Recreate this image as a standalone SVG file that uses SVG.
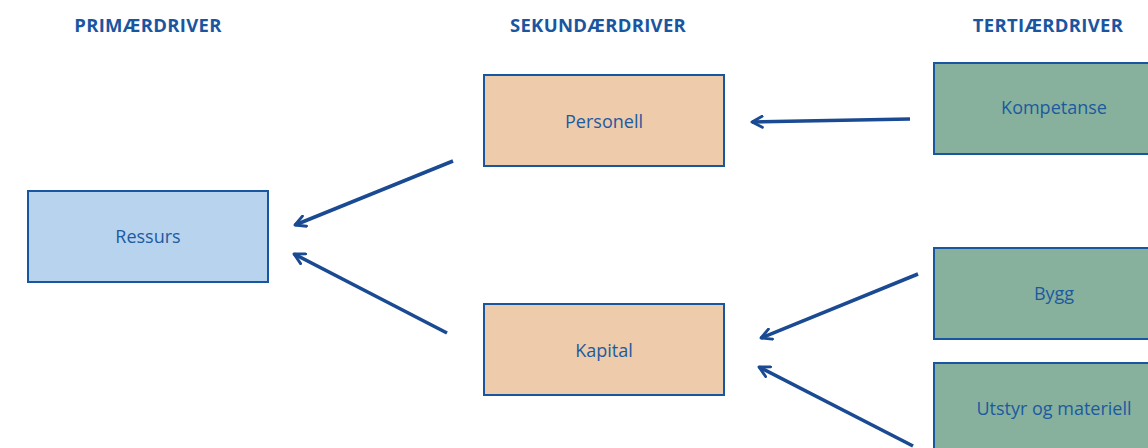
<svg xmlns="http://www.w3.org/2000/svg" width="1148" height="448" viewBox="0 0 1148 448">
<style>
.hdr{font-family:"Open Sans","Liberation Sans",sans-serif;font-weight:bold;font-size:18.5px;fill:#1a56a0;text-anchor:middle;letter-spacing:0.3px}
.lbl{font-family:"Open Sans","Liberation Sans",sans-serif;font-size:18px;fill:#1c5aa0;text-anchor:middle}
.box{stroke:#1857a0;stroke-width:2}
.blue{fill:#b8d3ee}
.tan{fill:#edcbab}
.green{fill:#87b19c}
.conn line{stroke:#1a4a92;stroke-width:3.6;marker-end:url(#arr)}
</style>
<defs>
<marker id="arr" viewBox="0 0 10 10" refX="8.5" refY="5" markerWidth="3.8" markerHeight="3.8" orient="auto" markerUnits="strokeWidth">
<path d="M1,1 L8.5,5 L1,9" fill="none" stroke="#1a4a92" stroke-width="2.1" stroke-linecap="round" stroke-linejoin="round"/>
</marker>
</defs>
<rect width="1148" height="448" fill="#ffffff"/>
<text class="hdr" x="148" y="32">PRIMÆRDRIVER</text>
<text class="hdr" x="598" y="32">SEKUNDÆRDRIVER</text>
<text class="hdr" x="1048" y="32">TERTIÆRDRIVER</text>
<g id="ressurs"><rect class="box blue" x="28" y="191" width="240" height="91"/><text class="lbl" x="148" y="243">Ressurs</text></g>
<g id="personell"><rect class="box tan" x="484" y="75" width="240" height="91"/><text class="lbl" x="604" y="128">Personell</text></g>
<g id="kapital"><rect class="box tan" x="484" y="304" width="240" height="91"/><text class="lbl" x="604" y="357">Kapital</text></g>
<g id="kompetanse"><rect class="box green" x="934" y="63" width="230" height="91"/><text class="lbl" x="1054" y="114">Kompetanse</text></g>
<g id="bygg"><rect class="box green" x="934" y="248" width="230" height="91"/><text class="lbl" x="1054" y="300">Bygg</text></g>
<g id="utstyr"><rect class="box green" x="934" y="363" width="230" height="100"/><text class="lbl" x="1054" y="415">Utstyr og materiell</text></g>
<g class="conn" id="connectors">
<line x1="910" y1="119" x2="752" y2="122"/>
<line x1="453" y1="161" x2="295" y2="225"/>
<line x1="447" y1="333" x2="294" y2="254"/>
<line x1="918" y1="274" x2="761" y2="338"/>
<line x1="913" y1="446" x2="759" y2="367"/>
</g>
</svg>
